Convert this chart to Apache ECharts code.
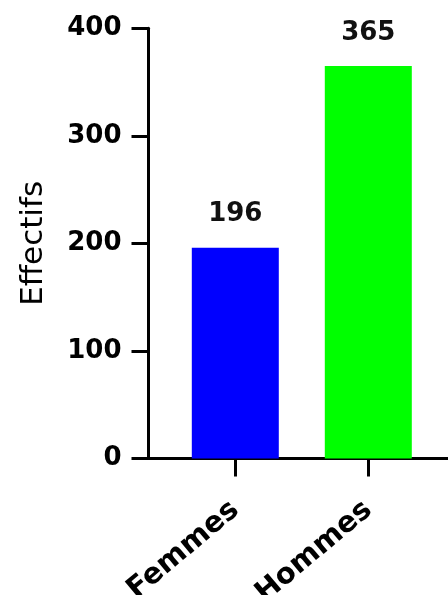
<!DOCTYPE html>
<html>
<head>
<meta charset="utf-8">
<script src="https://cdn.jsdelivr.net/npm/echarts@6/dist/echarts.min.js"></script>
<style>
html,body{margin:0;padding:0;background:#fff;}
#chart{width:448px;height:595px;}
</style>
</head>
<body>
<div id="chart"></div>
<script>
const categories = ['Femmes', 'Hommes'];
const values = [196, 365];
const barColors = ['#0000FF', '#00FF00'];
const yTicks = [0, 100, 200, 300, 400];
const yAxisName = 'Effectifs';

const numFont = 'DejaVu Sans';
const chart = echarts.init(document.getElementById('chart'), null, {renderer: 'canvas'});

const option = {
  backgroundColor: '#ffffff',
  animation: false,
  grid: [
    {left: 168.8, width: 266, top: 28.3, bottom: 136.5, containLabel: false, outerBoundsMode: 'none'},
    {left: 148.5, right: -5, top: 28.3, bottom: 136.5, containLabel: false, outerBoundsMode: 'none'}
  ],
  xAxis: [
    {
      type: 'category',
      gridIndex: 0,
      data: categories,
      axisLine: {show: false},
      axisTick: {show: true, alignWithLabel: true, length: 18, lineStyle: {color: '#000', width: 3}},
      axisLabel: {
        rotate: 40, margin: 48, color: '#000',
        fontFamily: numFont, fontWeight: 'bold', fontSize: 29
      },
      splitLine: {show: false}
    },
    {
      type: 'value',
      gridIndex: 1,
      min: 0, max: 1,
      axisLine: {show: true, onZero: false, lineStyle: {color: '#000', width: 3}},
      axisTick: {show: false},
      axisLabel: {show: false},
      splitLine: {show: false}
    }
  ],
  yAxis: [
    {
      type: 'value',
      gridIndex: 0,
      min: yTicks[0],
      max: yTicks[yTicks.length - 1],
      interval: yTicks[1] - yTicks[0],
      offset: 20.3,
      name: yAxisName,
      nameLocation: 'middle',
      nameGap: 99,
      nameRotate: 90,
      nameTextStyle: {fontFamily: numFont, fontSize: 31, fontWeight: 500, color: '#000'},
      axisLine: {show: true, lineStyle: {color: '#000', width: 3}},
      axisTick: {show: true, length: 17, lineStyle: {color: '#000', width: 3}},
      axisLabel: {margin: 27, color: '#000', fontFamily: numFont, fontWeight: 'bold', fontSize: 26},
      splitLine: {show: false}
    },
    {
      type: 'value',
      gridIndex: 1,
      min: 0, max: 1,
      show: false
    }
  ],
  series: [
    {
      type: 'bar',
      xAxisIndex: 0,
      yAxisIndex: 0,
      barWidth: 87,
      data: values.map((v, i) => ({value: v, itemStyle: {color: barColors[i]}})),
      label: {
        show: true, position: 'top', distance: 20,
        color: '#111', fontFamily: numFont, fontWeight: 'bold', fontSize: 26
      }
    }
  ]
};
chart.setOption(option);
</script>
</body>
</html>
